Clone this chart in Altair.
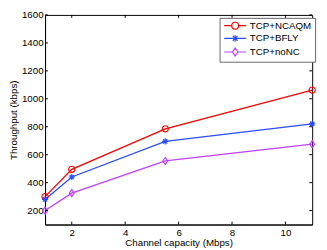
import altair as alt
import pandas as pd

capacity = [1, 2, 5.5, 11]
ncaqm = [300, 495, 785, 1062]
bfly = [280, 440, 695, 820]
nonc = [200, 325, 555, 675]

series_names = ["TCP+NCAQM", "TCP+BFLY", "TCP+noNC"]
colors = ["#ff0000", "#2b4cff", "#c040ff"]
plot_shapes = [
    "circle",
    "M-1,0L1,0M0,-1L0,1M-0.7,-0.7L0.7,0.7M-0.7,0.7L0.7,-0.7",
    "M0,-1.15L0.8,0L0,1.15L-0.8,0Z",
]
legend_shapes = [
    "M-3.2,0L-1,0M1,0L3.2,0M1,0A1,1,0,1,1,-1,0A1,1,0,1,1,1,0",
    "M-3.2,0L3.2,0M0,-1L0,1M-0.7,-0.7L0.7,0.7M-0.7,0.7L0.7,-0.7",
    "M-3.2,0L-0.8,0M0.8,0L3.2,0M0,-1.15L0.8,0L0,1.15L-0.8,0Z",
]
x_ticks = [2, 4, 6, 8, 10]
y_ticks = [200, 400, 600, 800, 1000, 1200, 1400, 1600]

W, H = 274, 215

rows = []
for name, vals in zip(series_names, [ncaqm, bfly, nonc]):
    for c, v in zip(capacity, vals):
        rows.append({"capacity": c, "throughput": v, "series": name})
df = pd.DataFrame(rows)

font = "Liberation Sans"
xscale = alt.Scale(domain=[1, 11], nice=False)
yscale = alt.Scale(domain=[100, 1600], nice=False)
xaxis = alt.Axis(values=x_ticks, title="Channel capacity (Mbps)",
                 grid=False, tickSize=0, labelFontSize=10, titleFontSize=10,
                 titleFontWeight="normal", titlePadding=0, labelPadding=3,
                 labelOverlap=False,
                 domainColor="black", labelColor="black",
                 titleColor="black", labelFont=font, titleFont=font)
yaxis = alt.Axis(values=y_ticks, format="d",
                 title="Throughput (kbps)", grid=False, tickSize=0,
                 labelFontSize=10, titleFontSize=10, titleFontWeight="normal",
                 titlePadding=3, labelPadding=2, domainColor="black",
                 labelOverlap=False,
                 labelColor="black", titleColor="black",
                 labelFont=font, titleFont=font)
xenc = alt.X("capacity:Q", scale=xscale, axis=xaxis)
yenc = alt.Y("throughput:Q", scale=yscale, axis=yaxis)
cscale = alt.Scale(domain=series_names, range=colors)


def make_legend():
    return alt.Legend(title=None, orient="none", legendX=179, legendY=3,
                      labelFontSize=10, labelFont=font, labelColor="black",
                      symbolSize=49, symbolStrokeWidth=1.2,
                      symbolOffset=8, labelOffset=10, rowPadding=1,
                      padding=3, strokeColor="#666666", fillColor="white",
                      labelLimit=200)


base = alt.Chart(df)
lines = base.mark_line(strokeWidth=1.3).encode(
    x=xenc, y=yenc,
    color=alt.Color("series:N", scale=cscale, legend=None),
    detail="series:N",
)
points = base.mark_point(filled=False, strokeWidth=1.2, size=40, opacity=1).encode(
    x=xenc, y=yenc,
    color=alt.Color("series:N", scale=cscale, legend=None),
    shape=alt.Shape("series:N", scale=alt.Scale(domain=series_names, range=plot_shapes), legend=None),
)
legend_layer = base.transform_filter("false").mark_point(
    filled=False, strokeWidth=1.2, size=49, opacity=1
).encode(
    x=xenc, y=yenc,
    color=alt.Color("series:N", scale=cscale, legend=make_legend()),
    shape=alt.Shape("series:N", scale=alt.Scale(domain=series_names, range=legend_shapes),
                    legend=make_legend()),
)

xt = pd.DataFrame({"t": x_ticks})
yt = pd.DataFrame({"t": y_ticks})
tick_style = dict(color="black", strokeWidth=1)
xticks_bottom = alt.Chart(xt).mark_rule(**tick_style).encode(
    x=alt.X("t:Q", scale=xscale, axis=xaxis), y=alt.value(H), y2=alt.value(H - 3))
xticks_top = alt.Chart(xt).mark_rule(**tick_style).encode(
    x=alt.X("t:Q", scale=xscale, axis=xaxis), y=alt.value(0), y2=alt.value(3))
yticks_left = alt.Chart(yt).mark_rule(**tick_style).encode(
    y=alt.Y("t:Q", scale=yscale, axis=yaxis), x=alt.value(0), x2=alt.value(3))
yticks_right = alt.Chart(yt).mark_rule(**tick_style).encode(
    y=alt.Y("t:Q", scale=yscale, axis=yaxis), x=alt.value(W), x2=alt.value(W - 3))

chart = alt.layer(
    lines, points, legend_layer, xticks_bottom, xticks_top, yticks_left, yticks_right
).resolve_scale(shape="independent", color="independent").properties(
    width=W, height=H,
    autosize=alt.AutoSizeParams(type="none"),
    padding={"left": 38, "top": 4, "right": 7, "bottom": 23},
).configure_view(stroke="black", strokeWidth=1)

chart.save("out.html", embed_options={"renderer": "svg", "actions": False})
